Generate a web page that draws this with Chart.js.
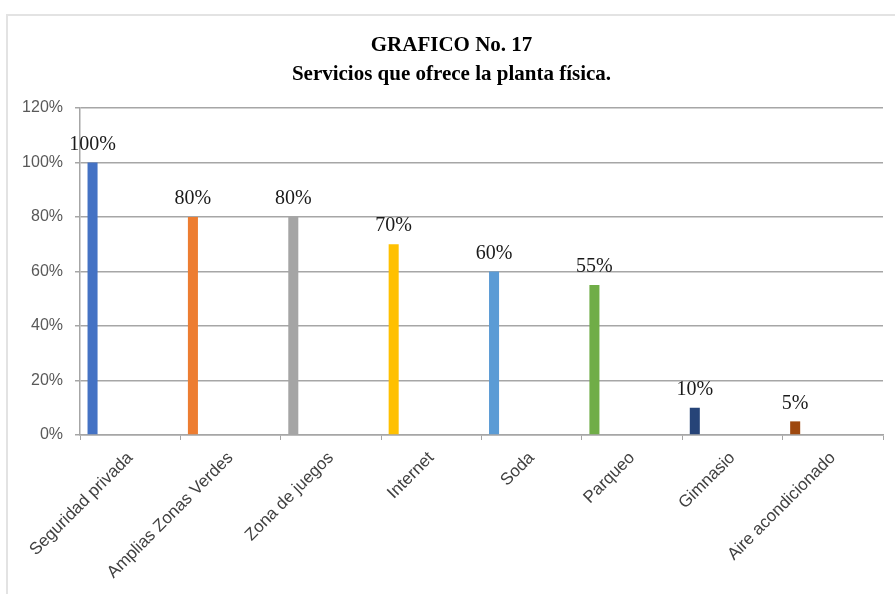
<!DOCTYPE html>
<html>
<head>
<meta charset="utf-8">
<script src="https://cdn.jsdelivr.net/npm/chart.js@4.4.1/dist/chart.umd.min.js"></script>
<style>
  body { margin: 0; background: #fff; }
  #wrap { position: relative; width: 895px; height: 594px; }
  #frame { position: absolute; left: 6px; top: 14px; right: 0; bottom: 0; border-top: 2px solid #e3e3e3; border-left: 2px solid #e3e3e3; }
  canvas { position: absolute; left: 0; top: 0; }
</style>
</head>
<body>
<div id="wrap">
  <div id="frame"></div>
  <canvas id="chart" width="895" height="594"></canvas>
</div>
<script>
const categories = ["Seguridad privada", "Amplias Zonas Verdes", "Zona de juegos", "Internet", "Soda", "Parqueo", "Gimnasio", "Aire acondicionado"]
const percentValues = [100, 80, 80, 70, 60, 55, 10, 5]
const barColors = ["#4472c4", "#ed7d31", "#a5a5a5", "#ffc000", "#5b9bd5", "#70ad47", "#264478", "#9e480e"]
const titleLines = ["GRAFICO No. 17", "Servicios que ofrece la planta física."]
const yMax = 120
const yStep = 20

const sans = "'Liberation Sans', Arial, sans-serif"
const serif = "'Liberation Serif', 'Times New Roman', serif"

// value labels drawn above each bar, like the Excel data labels
const barLabels = {
  id: "barLabels",
  afterDatasetsDraw(chart) {
    const ctx = chart.ctx
    const meta = chart.getDatasetMeta(0)
    ctx.save()
    ctx.font = `20px ${serif}`
    ctx.fillStyle = "#1a1a1a"
    ctx.textAlign = "center"
    ctx.textBaseline = "bottom"
    meta.data.forEach((bar, i) => {
      ctx.fillText(`${percentValues[i]}%`, bar.x, bar.y - 8)
    })
    ctx.restore()
  },
}

// Excel leaves room for the empty slots on the right of each bar
const spacer = () => ({ label: "", data: [], backgroundColor: "transparent" })

new Chart(document.getElementById("chart"), {
  type: "bar",
  data: {
    labels: categories,
    datasets: [
      { label: "Servicios", data: percentValues, backgroundColor: barColors },
      spacer(), spacer(), spacer(),
    ],
  },
  options: {
    responsive: false,
    animation: false,
    categoryPercentage: 1,
    barPercentage: 0.4,
    layout: { padding: { left: 20, right: 12, top: 0, bottom: 0 } },
    plugins: {
      legend: { display: false },
      tooltip: { enabled: false },
      title: {
        display: true,
        text: titleLines,
        color: "#000",
        font: { family: serif, size: 21, weight: "bold", lineHeight: 1.38 },
        padding: { top: 31, bottom: 19 },
      },
    },
    scales: {
      x: {
        grid: { drawOnChartArea: false, drawTicks: true, tickLength: 5, color: "#a6a6a6", offset: true },
        border: { color: "#a6a6a6", width: 1.5 },
        ticks: {
          color: "#404040",
          font: { family: sans, size: 17 },
          minRotation: 45,
          maxRotation: 45,
          autoSkip: false,
          padding: 8,
        },
        afterFit: (scale) => { scale.height = 159 },
      },
      y: {
        min: 0,
        max: yMax,
        grid: { color: "#a6a6a6", lineWidth: 1.5, tickLength: 5 },
        border: { color: "#a6a6a6", width: 1.5 },
        ticks: {
          stepSize: yStep,
          color: "#595959",
          font: { family: sans, size: 16 },
          padding: 12,
          callback: (v) => `${v}%`,
        },
        afterFit: (scale) => { scale.width = 60 },
      },
    },
  },
  plugins: [barLabels],
})
</script>
</body>
</html>
